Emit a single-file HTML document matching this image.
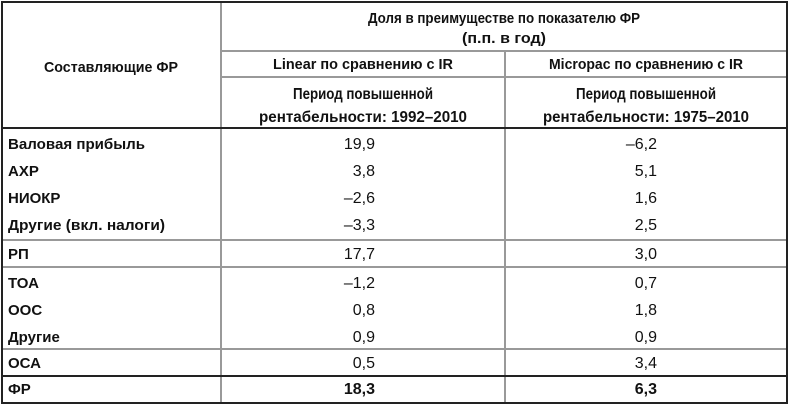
<!DOCTYPE html>
<html><head><meta charset="utf-8"><style>
html,body{margin:0;padding:0;background:#fff;}
svg{display:block;}
text{font-family:"Liberation Sans",sans-serif;font-size:15px;fill:#111;}
.b{font-weight:bold;}
.n{font-size:16px;}
</style></head><body>
<svg width="790" height="406" xmlns="http://www.w3.org/2000/svg">
<rect x="0" y="0" width="790" height="406" fill="#fff"/>
<g stroke="#999" stroke-width="2">
<line x1="221" y1="2" x2="221" y2="404"/>
<line x1="505" y1="51" x2="505" y2="404"/>
<line x1="221" y1="51" x2="788" y2="51"/>
<line x1="221" y1="77" x2="788" y2="77"/>
<line x1="2" y1="240" x2="788" y2="240"/>
<line x1="2" y1="267" x2="788" y2="267"/>
<line x1="2" y1="349" x2="788" y2="349"/>
</g>
<g stroke="#222" stroke-width="2" fill="none">
<rect x="2" y="2" width="785" height="401"/>
<line x1="2" y1="128" x2="788" y2="128"/>
<line x1="2" y1="376" x2="788" y2="376"/>
</g>
<g text-anchor="middle">
<text x="111" y="72" class="b" textLength="134" lengthAdjust="spacingAndGlyphs">Составляющие ФР</text>
<text x="504" y="23" class="b" textLength="272" lengthAdjust="spacingAndGlyphs">Доля в преимуществе по показателю ФР</text>
<text x="504" y="43" class="b" textLength="84" lengthAdjust="spacingAndGlyphs">(п.п. в год)</text>
<text x="363" y="69" class="b" textLength="180" lengthAdjust="spacingAndGlyphs">Linear по сравнению с IR</text>
<text x="646" y="69" class="b" textLength="194" lengthAdjust="spacingAndGlyphs">Micropac по сравнению с IR</text>
<text x="363" y="99" class="b n" textLength="140" lengthAdjust="spacingAndGlyphs">Период повышенной</text>
<text x="363" y="122" class="b n" textLength="208" lengthAdjust="spacingAndGlyphs">рентабельности: 1992–2010</text>
<text x="646" y="99" class="b n" textLength="140" lengthAdjust="spacingAndGlyphs">Период повышенной</text>
<text x="646" y="122" class="b n" textLength="206" lengthAdjust="spacingAndGlyphs">рентабельности:  1975–2010</text>
</g>
<g>
<text x="8" y="149" class="b" textLength="137" lengthAdjust="spacingAndGlyphs">Валовая прибыль</text>
<text x="8" y="176" class="b">АХР</text>
<text x="8" y="203" class="b">НИОКР</text>
<text x="8" y="230" class="b" textLength="157" lengthAdjust="spacingAndGlyphs">Другие (вкл. налоги)</text>
<text x="8" y="259" class="b">РП</text>
<text x="8" y="288" class="b">ТОА</text>
<text x="8" y="315" class="b">ООС</text>
<text x="8" y="342" class="b">Другие</text>
<text x="8" y="368" class="b">ОСА</text>
<text x="8" y="394" class="b">ФР</text>
</g>
<g text-anchor="end">
<text x="375" y="149" class="n">19,9</text>
<text x="375" y="176" class="n">3,8</text>
<text x="375" y="203" class="n">–2,6</text>
<text x="375" y="230" class="n">–3,3</text>
<text x="375" y="259" class="n">17,7</text>
<text x="375" y="288" class="n">–1,2</text>
<text x="375" y="315" class="n">0,8</text>
<text x="375" y="342" class="n">0,9</text>
<text x="375" y="368" class="n">0,5</text>
<text x="375" y="394" class="b n">18,3</text>
<text x="657" y="149" class="n">–6,2</text>
<text x="657" y="176" class="n">5,1</text>
<text x="657" y="203" class="n">1,6</text>
<text x="657" y="230" class="n">2,5</text>
<text x="657" y="259" class="n">3,0</text>
<text x="657" y="288" class="n">0,7</text>
<text x="657" y="315" class="n">1,8</text>
<text x="657" y="342" class="n">0,9</text>
<text x="657" y="368" class="n">3,4</text>
<text x="657" y="394" class="b n">6,3</text>
</g>
</svg>
</body></html>
